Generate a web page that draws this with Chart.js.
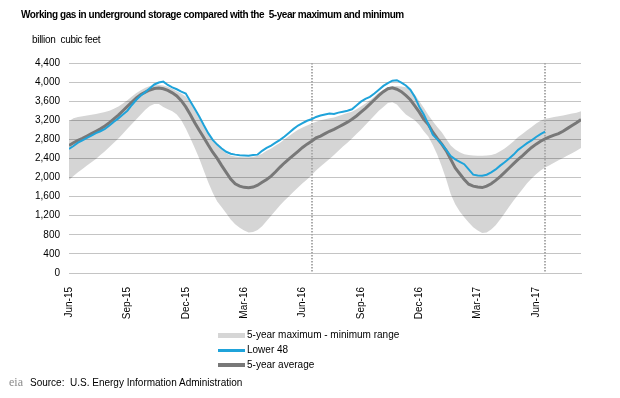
<!DOCTYPE html>
<html><head><meta charset="utf-8">
<script src="https://cdn.jsdelivr.net/npm/chart.js@4"></script>
<style>
html,body{margin:0;padding:0;background:#fff;}
#wrap{position:relative;width:620px;height:398px;font-family:"Liberation Sans",Arial,sans-serif;overflow:hidden;}
canvas{position:absolute;left:0;top:0;}
.t{position:absolute;white-space:pre;color:#000;line-height:1;}
.row{position:absolute;left:218px;height:12px;}
.sw{position:absolute;left:0;width:27px;}
.lt{position:absolute;left:29px;top:0;font-size:10px;line-height:12px;white-space:nowrap;color:#000;}
</style></head><body>
<div id="wrap">
<canvas id="c" width="620" height="398"></canvas>
<div class="t" id="title" style="left:21px;top:10px;font-size:10px;font-weight:bold;letter-spacing:-0.45px">Working gas in underground storage compared with the  5-year maximum and minimum</div>
<div class="t" id="unit" style="left:32px;top:35px;font-size:10px;letter-spacing:-0.3px">billion  cubic feet</div>
<div id="legend"></div>
<div class="t" style="left:9px;top:376px;font-family:'Liberation Serif',serif;font-size:12px;color:#8a8a8a">eia</div>
<div class="t" style="left:30px;top:378px;font-size:10px">Source:  U.S. Energy Information Administration</div>
</div>
<script>
const tickWeeks  = [0, 13, 26, 39, 52, 65, 78, 91, 104];
const tickLabels = ['Jun-15','Sep-15','Dec-15','Mar-16','Jun-16','Sep-16','Dec-16','Mar-17','Jun-17'];
const markerWeeks = [54, 106];
const yMax = 4400, yStep = 400;

const bandMax = [3180,3240,3270,3285,3300,3315,3330,3350,3375,3400,3440,3490,3550,3620,3700,3770,3830,3880,3920,3940,
3945,3930,3900,3860,3810,3760,3700,3580,3420,3250,3080,2930,2790,2680,2590,2510,2460,2440,2430,2425,
2425,2435,2455,2500,2560,2610,2670,2730,2800,2870,2940,3000,3050,3090,3130,3170,3200,3220,3240,3260,
3290,3320,3350,3380,3430,3490,3550,3620,3700,3780,3840,3890,3910,3920,3910,3890,3850,3740,3600,3460,
3310,3180,3060,2950,2810,2670,2590,2530,2490,2470,2460,2455,2455,2460,2470,2500,2550,2610,2680,2760,
2850,2920,2990,3060,3130,3190,3230,3250,3270,3285,3300,3320,3340,3360,3390];

const bandMin = [1950,2030,2110,2180,2250,2320,2390,2470,2550,2640,2730,2820,2920,3020,3120,3220,3320,3420,3500,3540,
3540,3480,3430,3390,3320,3200,3030,2830,2620,2400,2150,1900,1680,1500,1380,1250,1120,1020,950,890,
850,860,900,980,1090,1200,1310,1420,1520,1610,1700,1790,1880,1960,2050,2150,2230,2310,2390,2470,
2560,2650,2730,2820,2910,3000,3100,3200,3300,3400,3480,3560,3580,3530,3420,3320,3260,3200,3100,2970,
2860,2680,2480,2230,1960,1650,1440,1290,1170,1060,960,890,840,850,910,1000,1120,1250,1390,1520,
1640,1760,1880,1980,2070,2150,2210,2260,2310,2360,2410,2460,2510,2560,2620];

const lower48 = [2600,2660,2730,2780,2830,2880,2930,2970,3020,3090,3170,3240,3320,3400,3520,3630,3720,3790,3870,3950,
3990,4010,3940,3890,3850,3800,3760,3600,3440,3280,3100,2930,2790,2690,2610,2540,2500,2480,2465,2460,
2455,2470,2480,2560,2620,2670,2730,2790,2860,2940,3020,3090,3140,3190,3220,3270,3300,3320,3340,3330,
3360,3380,3400,3430,3510,3590,3650,3690,3760,3840,3920,3980,4030,4040,3990,3930,3840,3690,3480,3320,
3120,2900,2800,2700,2580,2450,2380,2330,2280,2170,2060,2045,2040,2060,2110,2170,2250,2320,2400,2480,
2580,2650,2720,2780,2850,2910,2960];

const avg5 = [2670,2730,2780,2820,2870,2920,2970,3020,3080,3150,3230,3310,3400,3490,3580,3670,3740,3790,3835,3865,
3875,3860,3825,3775,3710,3610,3480,3320,3150,2990,2840,2680,2530,2400,2250,2110,1970,1870,1820,1795,
1785,1800,1840,1900,1960,2030,2120,2220,2310,2390,2470,2550,2630,2700,2760,2830,2870,2920,2970,3010,
3060,3110,3160,3220,3290,3370,3450,3540,3630,3720,3800,3860,3880,3850,3800,3720,3630,3500,3370,3220,
3110,2950,2820,2700,2560,2380,2200,2080,1960,1860,1820,1800,1790,1820,1870,1940,2020,2110,2200,2290,
2380,2460,2550,2630,2700,2760,2810,2850,2890,2920,2970,3030,3090,3150,3215];

const seriesNames = ['5-year maximum - minimum range', 'Lower 48', '5-year average'];
const colors = { band:'rgba(0,0,0,0.165)', bandSwatch:'#d6d6d6', lower:'#1fa3da', avg:'#787878', grid:'#c4c4c4', marker:'#ababab' };
const FONT = '"Liberation Sans", Arial, sans-serif';

const pts = arr => arr.map((v, i) => ({ x: i, y: v }));

const markerPlugin = {
  id: 'markers',
  beforeDatasetsDraw(chart) {
    const { ctx, chartArea, scales } = chart;
    ctx.save();
    ctx.strokeStyle = colors.marker;
    ctx.lineWidth = 2;
    ctx.setLineDash([1.5, 1.5]);
    markerWeeks.forEach(w => {
      const px = Math.round(scales.x.getPixelForValue(w));
      ctx.beginPath();
      ctx.moveTo(px, chartArea.top);
      ctx.lineTo(px, chartArea.bottom);
      ctx.stroke();
    });
    ctx.restore();
  }
};

const chart = new Chart(document.getElementById('c'), {
  type: 'line',
  data: {
    datasets: [
      { label: seriesNames[0], data: pts(bandMax), borderWidth: 0, pointRadius: 0, fill: '+1', backgroundColor: colors.band, borderColor: 'rgba(0,0,0,0)', order: 3 },
      { label: 'min', data: pts(bandMin), borderWidth: 0, pointRadius: 0, fill: false, borderColor: 'rgba(0,0,0,0)', order: 3 },
      { label: seriesNames[1], data: pts(lower48), borderColor: colors.lower, borderWidth: 2, pointRadius: 0, fill: false, order: 1 },
      { label: seriesNames[2], data: pts(avg5), borderColor: colors.avg, borderWidth: 3, pointRadius: 0, fill: false, order: 2 }
    ]
  },
  options: {
    responsive: false, animation: false, devicePixelRatio: 1,
    layout: { padding: { left: 29, right: 39, top: 63, bottom: 65 } },
    plugins: { legend: { display: false }, tooltip: { enabled: false }, filler: { drawTime: 'beforeDatasetsDraw' } },
    scales: {
      x: {
        type: 'linear', min: 0, max: bandMax.length - 1,
        afterBuildTicks: s => { s.ticks = tickWeeks.map(v => ({ value: v })); },
        afterFit: s => { s.height = 60; },
        grid: { display: false },
        border: { display: true, color: colors.grid },
        ticks: { autoSkip: false, minRotation: 90, maxRotation: 90, padding: 6, color: '#000', font: { size: 10, family: FONT },
          callback: v => tickLabels[tickWeeks.indexOf(v)] }
      },
      y: {
        min: 0, max: yMax,
        afterFit: s => { s.width = 40; },
        grid: { color: colors.grid, drawTicks: false },
        border: { display: false },
        ticks: { stepSize: yStep, padding: 9, color: '#000', font: { size: 10, family: FONT },
          callback: v => v.toLocaleString('en-US') }
      }
    }
  },
  plugins: [markerPlugin]
});

// HTML legend built from the datasets
const legend = document.getElementById('legend');
const rows = [
  { text: seriesNames[0], color: colors.bandSwatch, h: 5, top: 329 },
  { text: seriesNames[1], color: colors.lower, h: 3, top: 344 },
  { text: seriesNames[2], color: colors.avg, h: 4, top: 359 }
];
rows.forEach(r => {
  const d = document.createElement('div');
  d.className = 'row'; d.style.top = r.top + 'px';
  const s = document.createElement('div');
  s.className = 'sw'; s.style.background = r.color; s.style.height = r.h + 'px'; s.style.top = (6 - r.h / 2) + 'px';
  const t = document.createElement('div');
  t.className = 'lt'; t.textContent = r.text;
  d.appendChild(s); d.appendChild(t); legend.appendChild(d);
});
</script>
</body></html>
